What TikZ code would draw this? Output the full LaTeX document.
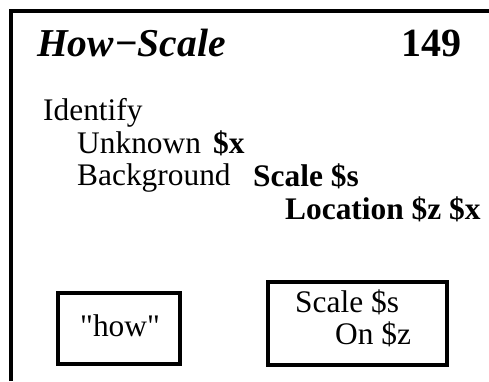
\documentclass[tikz,border=0pt]{standalone}
\usepackage{fontspec}
\setmainfont{Liberation Serif}
\begin{document}
\begin{tikzpicture}[x=1pt,y=-1pt,
  txt/.style={anchor=base west,inner sep=0pt,font=\fontsize{31.4}{31.4}\selectfont},
  btxt/.style={txt,font=\fontsize{31.4}{31.4}\selectfont\bfseries},
  card/.style={draw,line width=3.5pt,inner sep=0pt}]
\useasboundingbox (0,0) rectangle (489,381);
% frame edges
\draw[line width=3.5pt] (11,381) -- (11,11) -- (489,11);
% heading
\node[anchor=base west,inner sep=0pt,font=\fontsize{39.5}{39.5}\selectfont\bfseries\itshape] (title) at (37,56) {How−Scale};
\node[anchor=base west,inner sep=0pt,font=\fontsize{40}{40}\selectfont\bfseries] (num) at (401,56) {149};
% body lines
\node[txt] (identify) at (43,120) {Identify};
\node[txt] (unknown) at (77,153) {Unknown};
\node[btxt] (ux) at (213,153) {\$x};
\node[txt] (background) at (77,185) {Background};
\node[btxt] (scale) at (253,186) {Scale \$s};
\node[btxt] (location) at (285,219) {Location \$z \$x};
% boxes
\node[card,minimum width=122pt,minimum height=71pt] (how) at (119,328.5) {};
\node[txt] (howtxt) at (80,336) {\textquotedbl how\textquotedbl};
\node[card,minimum width=179pt,minimum height=83pt] (scalebox) at (357.5,323.5) {};
\node[txt] (scaletxt) at (295,312) {Scale \$s};
\node[txt] (ontxt) at (335,344) {On \$z};
\end{tikzpicture}
\end{document}
